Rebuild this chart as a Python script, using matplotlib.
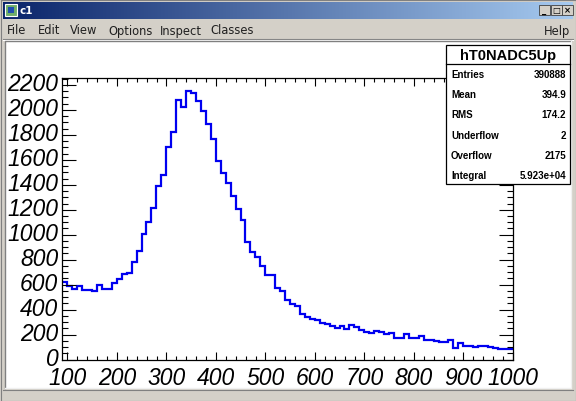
import numpy as np
import matplotlib
matplotlib.use("Agg")
import matplotlib.pyplot as plt
from matplotlib.patches import Rectangle
from matplotlib.colors import LinearSegmentedColormap
from matplotlib.ticker import MultipleLocator, NullFormatter
from matplotlib.transforms import ScaledTranslation

# ---------------- data ----------------
hist_name = "hT0NADC5Up"
bin_low = 89.5
bin_width = 10.0
counts = [619, 587, 566, 592, 558, 558, 550, 600, 568, 568,
          613, 645, 686, 696, 779, 872, 1006, 1099, 1214, 1392,
          1480, 1699, 1819, 2078, 2019, 2152, 2131, 2072, 1992, 1886,
          1766, 1587, 1491, 1411, 1312, 1206, 1118, 939, 864, 819,
          747, 680, 675, 571, 552, 478, 446, 427, 365, 339,
          326, 318, 294, 286, 272, 251, 267, 246, 278, 259,
          238, 219, 214, 232, 219, 206, 214, 174, 174, 206,
          171, 171, 187, 158, 161, 152, 144, 139, 161, 91,
          134, 112, 107, 99, 107, 107, 99, 91, 86, 86, 86]
x_ticks = [100, 200, 300, 400, 500, 600, 700, 800, 900, 1000]
y_ticks = [0, 200, 400, 600, 800, 1000, 1200, 1400, 1600, 1800, 2000, 2200]
stat_labels = ["Entries", "Mean", "RMS", "Underflow", "Overflow", "Integral"]
stat_values = ["390888", "394.9", "174.2", "2", "2175", "5.923e+04"]
menu_items = ["File", "Edit", "View", "Options", "Inspect", "Classes"]
window_title = "c1"

edges = bin_low + bin_width * np.arange(len(counts) + 1)

W, H = 576, 402
fig = plt.figure(figsize=(W / 100, H / 100), dpi=100)

# ---------------- window chrome ----------------
bg = fig.add_axes([0, 0, 1, 1])
bg.set_xlim(0, W)
bg.set_ylim(H, 0)
bg.axis("off")
gray = "#d4d0c8"
bg.add_patch(Rectangle((0, 0), W, H, fc=gray, ec="none"))
bg.plot([0.5, W - 0.5, W - 0.5, 0.5, 0.5], [0.5, 0.5, H - 0.5, H - 0.5, 0.5],
        color="#808080", lw=0.8)
cmap = LinearSegmentedColormap.from_list("tb", ["#0a246a", "#a6caf0"])
bg.imshow(np.linspace(0, 1, 256)[None, :], cmap=cmap, aspect="auto",
          extent=[3, W - 3, 20, 3], zorder=1)
bg.add_patch(Rectangle((5, 5), 12, 12, fc="#6fae6a", ec="#ffffff", lw=0.8, zorder=2))
bg.add_patch(Rectangle((8, 8), 6, 6, fc="#2050b0", ec="none", zorder=3))
bg.text(20, 11.5, window_title, color="white", fontsize=7.5, fontweight="bold",
        va="center", ha="left", family="DejaVu Sans", zorder=3)
for bx, glyph in zip([539, 551, 562], ["_", "□", "×"]):
    bg.add_patch(Rectangle((bx, 6), 11, 10, fc=gray, ec="#404040", lw=0.6, zorder=2))
    bg.text(bx + 5.5, 11, glyph, fontsize=6, ha="center", va="center",
            fontweight="bold", family="DejaVu Sans", zorder=3)
menu_x = [7, 38, 70, 108, 160, 210]
for mx, item in zip(menu_x, menu_items):
    bg.text(mx, 31, item, fontsize=8.3, ha="left", va="center",
            family="DejaVu Sans", color="#202020")
bg.text(570, 31, "Help", fontsize=8.3, ha="right", va="center",
        family="DejaVu Sans", color="#202020")
bg.plot([3, W - 3], [40, 40], color="#808080", lw=0.8)
bg.plot([3, W - 3], [41, 41], color="#ffffff", lw=0.8)
bg.add_patch(Rectangle((5, 42), 566, 347, fc="white", ec="none"))
bg.plot([5, 5, 571], [389, 42, 42], color="#808080", lw=1)
bg.plot([5, 571, 571], [389, 389, 42], color="#f0f0f0", lw=1)
bg.plot([3, W - 3], [391, 391], color="#808080", lw=0.8)

# ---------------- plot frame ----------------
x0, x1, y0, y1 = 62.3, 513.0, 79.3, 360.7
ax = fig.add_axes([x0 / W, 1 - y1 / H, (x1 - x0) / W, (y1 - y0) / H])
ax.set_facecolor("white")
ax.stairs(counts, edges, baseline=None, color="#0000f0", lw=1.6)
ax.set_xlim(bin_low, 1000)
ax.set_ylim(0, 2252)
ax.set_xticks(x_ticks)
ax.set_yticks(y_ticks)
ax.xaxis.set_major_formatter(NullFormatter())
ax.yaxis.set_major_formatter(NullFormatter())
ax.xaxis.set_minor_locator(MultipleLocator(20))
ax.yaxis.set_minor_locator(MultipleLocator(50))
for sp in ax.spines.values():
    sp.set_linewidth(0.9)
    sp.set_color("black")
ax.tick_params(axis="x", which="major", direction="in", length=6, width=0.8,
               top=True, bottom=True)
ax.tick_params(axis="x", which="minor", direction="in", length=2.7, width=0.8,
               top=True, bottom=True)
ax.tick_params(axis="y", which="major", direction="in", length=10, width=0.8,
               left=True, right=True)
ax.tick_params(axis="y", which="minor", direction="in", length=4.3, width=0.8,
               left=True, right=True)

# italic tick labels as texts placed through the axis transforms
lab_kw = dict(family="Liberation Sans", style="italic", fontsize=16.5, color="black")
tx = ax.get_xaxis_transform() + ScaledTranslation(0, -6 / 100, fig.dpi_scale_trans)
for v in x_ticks:
    ax.text(v, 0, str(v), transform=tx, ha="center", va="top", clip_on=False, **lab_kw)
ty = ax.get_yaxis_transform() + ScaledTranslation(-4 / 100, 1.5 / 100, fig.dpi_scale_trans)
for v in y_ticks:
    ax.text(0, v, str(v), transform=ty, ha="right", va="center", clip_on=False, **lab_kw)

# ---------------- stats box ----------------
bx0, by0, bx1, by1 = 446, 46, 570, 185
bg2 = fig.add_axes([0, 0, 1, 1], zorder=5)
bg2.set_xlim(0, W)
bg2.set_ylim(H, 0)
bg2.axis("off")
bg2.patch.set_alpha(0)
bg2.add_patch(Rectangle((bx0, by0), bx1 - bx0, by1 - by0, fc="white", ec="black", lw=0.9))
bg2.plot([bx0, bx1], [65, 65], color="black", lw=0.9)
bg2.text((bx0 + bx1) / 2, 56, hist_name, fontsize=10.5, fontweight="bold",
         family="Liberation Sans", ha="center", va="center")
row_y = [74.5, 95, 115.5, 136, 156, 176.5]
for ry, lab, val in zip(row_y, stat_labels, stat_values):
    bg2.text(451, ry, lab, fontsize=7, fontweight="bold", family="Liberation Sans",
             ha="left", va="center")
    bg2.text(566, ry, val, fontsize=7, fontweight="bold", family="Liberation Sans",
             ha="right", va="center")

fig.savefig("out.png", dpi=100)
